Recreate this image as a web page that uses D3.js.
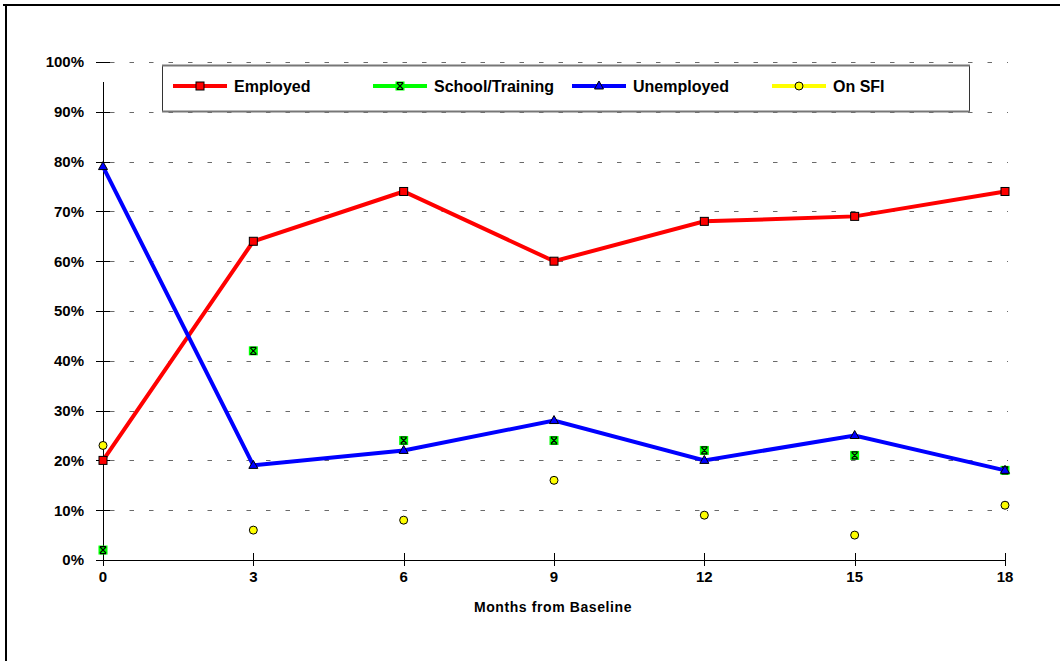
<!DOCTYPE html>
<html><head><meta charset="utf-8">
<script src="https://cdn.jsdelivr.net/npm/d3@7"></script>
<style>html,body{margin:0;padding:0;background:#fff;}svg{display:block;font-family:"Liberation Sans",Arial,sans-serif;}</style>
</head><body>
<script>
const months = [0, 3, 6, 9, 12, 15, 18];
const employed = [20, 64, 74, 60, 68, 69, 74];
const schoolTraining = [2, 42, 24, 24, 22, 21, 18];
const unemployed = [79, 19, 22, 28, 20, 25, 18];
const onSFI = [23, 6, 8, 16, 9, 5, 11];
const yTicks = [0, 10, 20, 30, 40, 50, 60, 70, 80, 90, 100];
const seriesNames = ["Employed", "School/Training", "Unemployed", "On SFI"];

const W = 1060, H = 661;
const svg = d3.select("body").append("svg").attr("width", W).attr("height", H);

// outer frame
svg.append("line").attr("x1", 3).attr("x2", W).attr("y1", 5).attr("y2", 5).attr("stroke", "#000").attr("stroke-width", 2);
svg.append("line").attr("x1", 6).attr("x2", 6).attr("y1", 4).attr("y2", H).attr("stroke", "#000").attr("stroke-width", 2);

const x = d3.scaleLinear().domain([0, 18]).range([103, 1005]);
const y = d3.scaleLinear().domain([0, 100]).range([560, 62]);

// gridlines
svg.append("g").selectAll("line").data(yTicks.filter(d => d > 0)).join("line")
  .attr("x1", 110).attr("x2", 1008)
  .attr("y1", d => Math.round(y(d)) + 0.5).attr("y2", d => Math.round(y(d)) + 0.5)
  .attr("stroke", "#6a6a6a").attr("stroke-width", 1.2).attr("stroke-dasharray", "4.5,15");

// y axis
const yAxis = svg.append("g");
yAxis.append("line").attr("x1", 103.5).attr("x2", 103.5).attr("y1", 82).attr("y2", y(0)).attr("stroke", "#000");
yAxis.selectAll("line.t").data(yTicks).join("line").attr("class", "t")
  .attr("x1", 96).attr("x2", 110)
  .attr("y1", d => Math.round(y(d)) + 0.5).attr("y2", d => Math.round(y(d)) + 0.5)
  .attr("stroke", "#000");
yAxis.selectAll("text").data(yTicks).join("text")
  .attr("x", 84).attr("y", d => y(d)).attr("dy", "0.36em")
  .attr("text-anchor", "end").attr("font-weight", "bold").attr("font-size", 15)
  .text(d => d + "%");

// x axis
const xAxis = svg.append("g");
xAxis.append("line").attr("x1", 98).attr("x2", 1005).attr("y1", 560.5).attr("y2", 560.5).attr("stroke", "#000");
xAxis.selectAll("line.t").data(months).join("line").attr("class", "t")
  .attr("x1", d => Math.round(x(d)) + 0.5).attr("x2", d => Math.round(x(d)) + 0.5)
  .attr("y1", 553).attr("y2", 566).attr("stroke", "#000");
xAxis.selectAll("text").data(months).join("text")
  .attr("x", d => x(d)).attr("y", 582)
  .attr("text-anchor", "middle").attr("font-weight", "bold").attr("font-size", 15)
  .text(d => d);
svg.append("text").attr("x", 553).attr("y", 612).attr("text-anchor", "middle")
  .attr("font-weight", "bold").attr("font-size", 14).attr("letter-spacing", 0.6).text("Months from Baseline");

// markers
function drawMarker(g, type, cx, cy) {
  if (type === "square") {
    g.append("rect").attr("x", cx - 4).attr("y", cy - 4).attr("width", 8).attr("height", 8)
      .attr("fill", "#ff0000").attr("stroke", "#000").attr("stroke-width", 1);
  } else if (type === "xsq") {
    g.append("rect").attr("x", cx - 4.5).attr("y", cy - 4.5).attr("width", 9).attr("height", 9)
      .attr("fill", "#00ff00").attr("stroke", "none");
    g.append("path").attr("d", `M${cx-3},${cy-3}L${cx+3},${cy+3}M${cx+3},${cy-3}L${cx-3},${cy+3}M${cx-3},${cy-3.5}H${cx+3}M${cx-3},${cy+3.5}H${cx+3}`)
      .attr("stroke", "#000").attr("stroke-width", 1.2).attr("fill", "none");
  } else if (type === "tri") {
    g.append("path").attr("d", `M${cx},${cy-5}L${cx+4.5},${cy+3}L${cx-4.5},${cy+3}Z`)
      .attr("fill", "#0000ff").attr("stroke", "#000").attr("stroke-width", 1);
  } else if (type === "circle") {
    g.append("circle").attr("cx", cx).attr("cy", cy).attr("r", 4)
      .attr("fill", "#ffff00").attr("stroke", "#000").attr("stroke-width", 1);
  }
}

const series = [
  { name: seriesNames[0], values: employed, color: "#ff0000", line: true, marker: "square" },
  { name: seriesNames[1], values: schoolTraining, color: "#00ff00", line: false, marker: "xsq" },
  { name: seriesNames[2], values: unemployed, color: "#0000ff", line: true, marker: "tri" },
  { name: seriesNames[3], values: onSFI, color: "#ffff00", line: false, marker: "circle" }
];

const lineGen = d3.line().x((d, i) => x(months[i])).y(d => y(d));
series.forEach(s => {
  const g = svg.append("g");
  if (s.line) {
    g.append("path").attr("d", lineGen(s.values)).attr("fill", "none")
      .attr("stroke", s.color).attr("stroke-width", 4).attr("stroke-linejoin", "miter");
  }
  s.values.forEach((v, i) => drawMarker(g, s.marker, x(months[i]), y(v)));
});

// legend
const lg = svg.append("g");
lg.append("rect").attr("x", 162.5).attr("y", 65.5).attr("width", 807).attr("height", 46)
  .attr("fill", "#fff").attr("stroke", "#333").attr("stroke-width", 1);
lg.append("line").attr("x1", 162).attr("x2", 970).attr("y1", 65.5).attr("y2", 65.5).attr("stroke", "#777").attr("stroke-width", 2);
lg.append("line").attr("x1", 162).attr("x2", 970).attr("y1", 111.5).attr("y2", 111.5).attr("stroke", "#777").attr("stroke-width", 2);
const legX = [173, 373, 572, 772];
series.forEach((s, i) => {
  const g = lg.append("g");
  g.append("line").attr("x1", legX[i]).attr("x2", legX[i] + 54).attr("y1", 86).attr("y2", 86)
    .attr("stroke", s.color).attr("stroke-width", 4);
  drawMarker(g, s.marker, legX[i] + 27, 86);
  g.append("text").attr("x", legX[i] + 61).attr("y", 86).attr("dy", "0.36em")
    .attr("font-weight", "bold").attr("font-size", 16).text(s.name);
});
</script>
</body></html>
